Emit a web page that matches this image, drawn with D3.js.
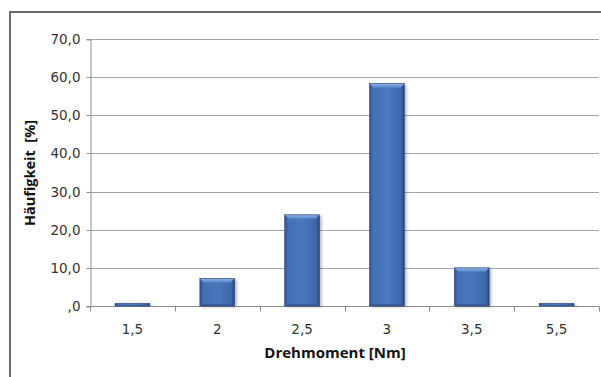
<!DOCTYPE html>
<html>
<head>
<meta charset="utf-8">
<script src="https://cdn.jsdelivr.net/npm/d3@7"></script>
<style>
  html, body { margin: 0; padding: 0; background: #fff; }
  svg { display: block; }
</style>
</head>
<body>
<svg id="chart" width="601" height="377"></svg>
<script>
const categories = ["1,5", "2", "2,5", "3", "3,5", "5,5"];
const values = [0.7, 7.2, 23.9, 58.3, 10.0, 0.7];
const yTicks = [0, 10, 20, 30, 40, 50, 60, 70];
const yTickLabels = [",0", "10,0", "20,0", "30,0", "40,0", "50,0", "60,0", "70,0"];
const xTitle = "Drehmoment [Nm]";
const yTitle = "Häufigkeit  [%]";

const svg = d3.select("#chart");
const W = 601, H = 377;
const m = { left: 90, right: 2, top: 39, bottom: 72 };

const defs = svg.append("defs");
const g1 = defs.append("linearGradient").attr("id", "barFill").attr("x1", 0).attr("x2", 1).attr("y1", 0).attr("y2", 0);
g1.append("stop").attr("offset", "0%").attr("stop-color", "#2f518f");
g1.append("stop").attr("offset", "10%").attr("stop-color", "#4470b5");
g1.append("stop").attr("offset", "50%").attr("stop-color", "#4a77bd");
g1.append("stop").attr("offset", "90%").attr("stop-color", "#3f68aa");
g1.append("stop").attr("offset", "100%").attr("stop-color", "#26447a");
const g2 = defs.append("linearGradient").attr("id", "bevelTop").attr("x1", 0).attr("x2", 0).attr("y1", 0).attr("y2", 1);
g2.append("stop").attr("offset", "0%").attr("stop-color", "#8fb3e6");
g2.append("stop").attr("offset", "100%").attr("stop-color", "#5584c8");
const g3 = defs.append("linearGradient").attr("id", "bevelBottom").attr("x1", 0).attr("x2", 0).attr("y1", 0).attr("y2", 1);
g3.append("stop").attr("offset", "0%").attr("stop-color", "#3d66a8");
g3.append("stop").attr("offset", "100%").attr("stop-color", "#2e5090");
const flt = defs.append("filter").attr("id", "shadow").attr("x", "-20%").attr("y", "-20%").attr("width", "150%").attr("height", "150%");
flt.append("feDropShadow").attr("dx", 2).attr("dy", 1).attr("stdDeviation", 1.5).attr("flood-color", "#000").attr("flood-opacity", 0.3);

// outer chart frame
svg.append("path")
  .attr("d", `M10,${H} L10,12 L${W},12`)
  .attr("fill", "none").attr("stroke", "#6b6b6b").attr("stroke-width", 2);

const x = d3.scaleBand().domain(categories).range([m.left, W - m.right]).paddingInner(0).paddingOuter(0);
const y = d3.scaleLinear().domain([0, 70]).range([H - m.bottom + 1, m.top]);

// gridlines
svg.append("g").selectAll("line").data(yTicks.filter(d => d > 0)).join("line")
  .attr("x1", m.left).attr("x2", W - m.right)
  .attr("y1", d => Math.round(y(d)) + 0.5).attr("y2", d => Math.round(y(d)) + 0.5)
  .attr("stroke", "#a6a6a6").attr("stroke-width", 1);

// y axis
const yAxis = d3.axisLeft(y).tickValues(yTicks).tickSize(4).tickPadding(6)
  .tickFormat((d, i) => yTickLabels[i]);
const ya = svg.append("g").attr("transform", `translate(${m.left + 0.5},0.5)`).call(yAxis);
ya.select(".domain").attr("stroke", "#8c8c8c");
ya.selectAll(".tick line").attr("stroke", "#8c8c8c");
ya.selectAll(".tick text").attr("font-family", "DejaVu Sans, Verdana, sans-serif").attr("font-size", 13.5).attr("fill", "#333");
ya.selectAll(".tick").attr("transform", d => `translate(0,${Math.round(y(d))})`);

// x axis
const base = Math.round(y(0)) + 0.5;
const xa = svg.append("g");
xa.append("line").attr("x1", m.left).attr("x2", W - m.right).attr("y1", base).attr("y2", base)
  .attr("stroke", "#8c8c8c");
const boundaries = categories.map(c => x(c)).concat([x(categories[categories.length - 1]) + x.bandwidth()]);
xa.selectAll("line.tk").data(boundaries).join("line").attr("class", "tk")
  .attr("x1", d => Math.round(d) + 0.5).attr("x2", d => Math.round(d) + 0.5)
  .attr("y1", base).attr("y2", base + 5).attr("stroke", "#8c8c8c");
xa.selectAll("text").data(categories).join("text")
  .attr("x", d => x(d) + x.bandwidth() / 2).attr("y", base + 27)
  .attr("text-anchor", "middle")
  .attr("font-family", "DejaVu Sans, Verdana, sans-serif").attr("font-size", 13.5).attr("fill", "#333")
  .text(d => d);

// bars
const bw = x.bandwidth() * 0.41;
const bars = svg.append("g").selectAll("g").data(categories.map((c, i) => ({ c, v: values[i] }))).join("g");
bars.each(function (d) {
  const gg = d3.select(this);
  const x0 = x(d.c) + (x.bandwidth() - bw) / 2;
  const y0 = y(d.v), y1 = y(0);
  const h = y1 - y0;
  gg.append("rect").attr("x", x0).attr("y", y0).attr("width", bw).attr("height", h)
    .attr("fill", "url(#barFill)").attr("filter", "url(#shadow)");
  const b = Math.min(4, h / 3);
  if (h > 4) {
    gg.append("path")
      .attr("d", `M${x0},${y0} L${x0 + bw},${y0} L${x0 + bw - b},${y0 + b} L${x0 + b},${y0 + b} Z`)
      .attr("fill", "url(#bevelTop)");
    gg.append("path")
      .attr("d", `M${x0},${y1} L${x0 + bw},${y1} L${x0 + bw - 2},${y1 - 2} L${x0 + 2},${y1 - 2} Z`)
      .attr("fill", "url(#bevelBottom)");
  }
  gg.append("rect").attr("x", x0).attr("y", y0).attr("width", bw).attr("height", h)
    .attr("fill", "none").attr("stroke", "#2a4678").attr("stroke-width", 0.6);
});

// axis titles
svg.append("text")
  .attr("x", 335).attr("y", 358)
  .attr("text-anchor", "middle")
  .attr("font-family", "Open Sans, Lato, sans-serif").attr("font-weight", "bold").attr("font-size", 15).attr("fill", "#111")
  .text(xTitle);
svg.append("text")
  .attr("transform", `translate(35,173) rotate(-90)`)
  .attr("text-anchor", "middle")
  .attr("font-family", "Open Sans, Lato, sans-serif").attr("font-weight", "bold").attr("font-size", 14.5).attr("fill", "#111")
  .attr("xml:space", "preserve").style("white-space", "pre")
  .text(yTitle);
</script>
</body>
</html>
